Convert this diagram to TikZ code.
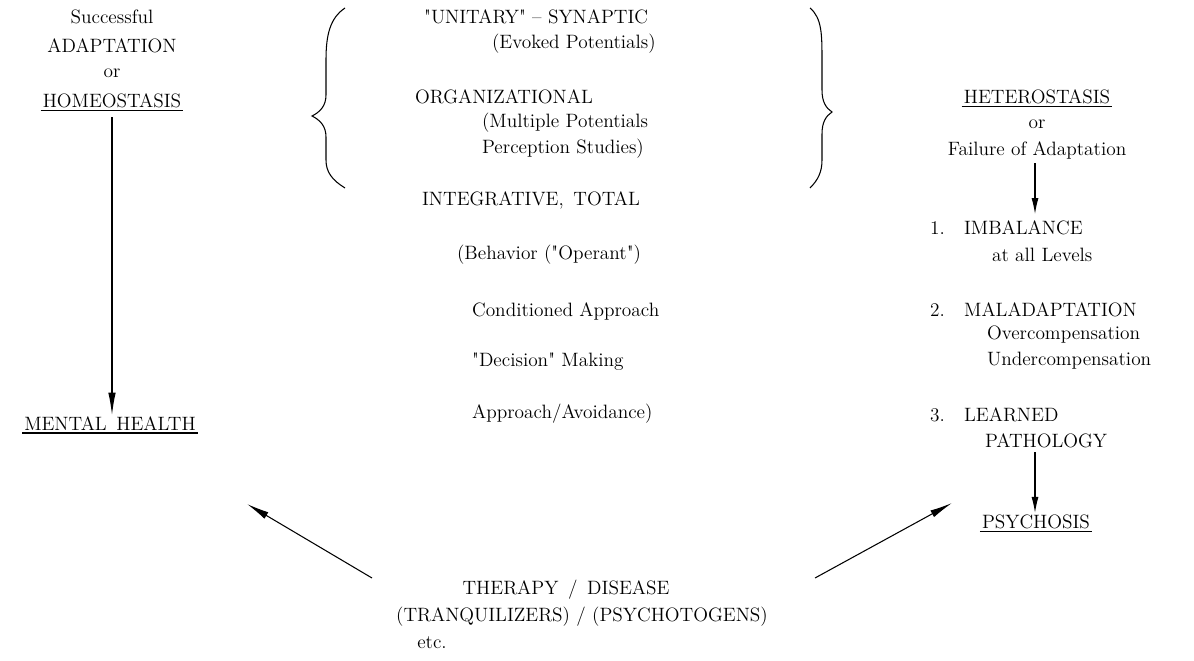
\documentclass[tikz,border=0pt]{standalone}
\usepackage{fontspec}
\usepackage{tikz}
\usetikzlibrary{arrows.meta}

\begin{document}
\begin{tikzpicture}[x=0.02cm,y=-0.02cm]
    \tikzstyle{lbl}=[inner sep=1pt, font=\fontsize{11}{13}\selectfont]
    \tikzstyle{lft}=[lbl, anchor=west]
    \tikzstyle{arr}=[line width=0.6pt, -{Latex[length=0.45cm, width=0.15cm]}]
    \tikzstyle{sarr}=[line width=0.6pt, -{Latex[length=0.32cm, width=0.14cm]}]
    \useasboundingbox (0,0) rectangle (1194,660);

\node[lbl] (succ) at (112,17) {Successful};
\node[lbl] (adap) at (112,46) {ADAPTATION};
\node[lbl] (or1) at (112,73) {or};
\node[lbl] (homeo) at (112,101) {HOMEOSTASIS};
\draw[line width=0.6pt] (homeo.south west) -- (homeo.south east);

\node[lbl] (mh) at (110,424) {MENTAL\enspace HEALTH};
\draw[line width=0.6pt] (mh.south west) -- (mh.south east);
\draw[arr] ([yshift=-4pt]homeo.south) -- (homeo.south |- mh.north);

% levels between the braces
\node[lft] (unit) at (422,17) {\textquotedbl UNITARY\textquotedbl{} -- SYNAPTIC};
\node[lft] (evok) at (490,44) {(Evoked Potentials)};
\node[lft] (org) at (413,97) {ORGANIZATIONAL};
\node[lft] (mult) at (480,123) {(Multiple Potentials};
\node[lft] (perc) at (480,149) {Perception Studies)};
\node[lft] (integ) at (420,200) {INTEGRATIVE,\enspace TOTAL};
\node[lft] (behav) at (455,255) {(Behavior (\textquotedbl Operant\textquotedbl)};
\node[lft] (cond) at (470,311) {Conditioned Approach};
\node[lft] (decis) at (470,362) {\textquotedbl Decision\textquotedbl{} Making};
\node[lft] (appr) at (470,414) {Approach/Avoidance)};

\draw[line width=0.6pt] (345,8) .. controls (330,18) and (326,35) .. (326,60) -- (326,95)
    .. controls (326,106) and (320,112) .. (312,116) .. controls (320,120) and (326,126) .. (326,137)
    -- (326,160) .. controls (326,172) and (332,180) .. (345,188);
\draw[line width=0.6pt] (810,8) .. controls (822,18) and (822,35) .. (822,60) -- (822,90)
    .. controls (822,102) and (826,108) .. (832,112) .. controls (826,116) and (822,122) .. (822,134)
    -- (822,160) .. controls (822,172) and (818,180) .. (810,188);

% right column
\node[lbl] (hetero) at (1037,97) {HETEROSTASIS};
\draw[line width=0.6pt] (hetero.south west) -- (hetero.south east);
\node[lbl] (or2) at (1037,124) {or};
\node[lbl] (fail) at (1037,150) {Failure of Adaptation};
\node[lft] (imb) at (928,228) {1.\quad IMBALANCE};
\node[lft] (lev) at (990,255) {at all Levels};
\node[lft] (mal) at (928,310) {2.\quad MALADAPTATION};
\node[lft] (over) at (985,335) {Overcompensation};
\node[lft] (under) at (985,361) {Undercompensation};
\node[lft] (learn) at (928,415) {3.\quad LEARNED};
\node[lft] (path) at (983,441) {PATHOLOGY};
\node[lbl] (psy) at (1036,522) {PSYCHOSIS};
\draw[line width=0.6pt] (psy.south west) -- (psy.south east);
\coordinate (f1) at (1035,163);
\coordinate (f2) at (1035,214);
\draw[sarr] (f1) -- (f2);
\coordinate (p1) at (1035,452);
\draw[sarr] (p1) -- (psy.north -| p1);

% therapy / disease
\node[lbl] (ther) at (566,590) {THERAPY\enspace /\enspace DISEASE};
\node[lbl] (tranq) at (582,617) {(TRANQUILIZERS) / (PSYCHOTOGENS)};
\node[lbl] (etc) at (432,643) {etc.};
\coordinate (t1) at (372,578);
\coordinate (t2) at (247,504);
\coordinate (d1) at (815,578);
\coordinate (d2) at (952,503);
\draw[arr] (t1) -- (t2);
\draw[arr] (d1) -- (d2);

\end{tikzpicture}
\end{document}
